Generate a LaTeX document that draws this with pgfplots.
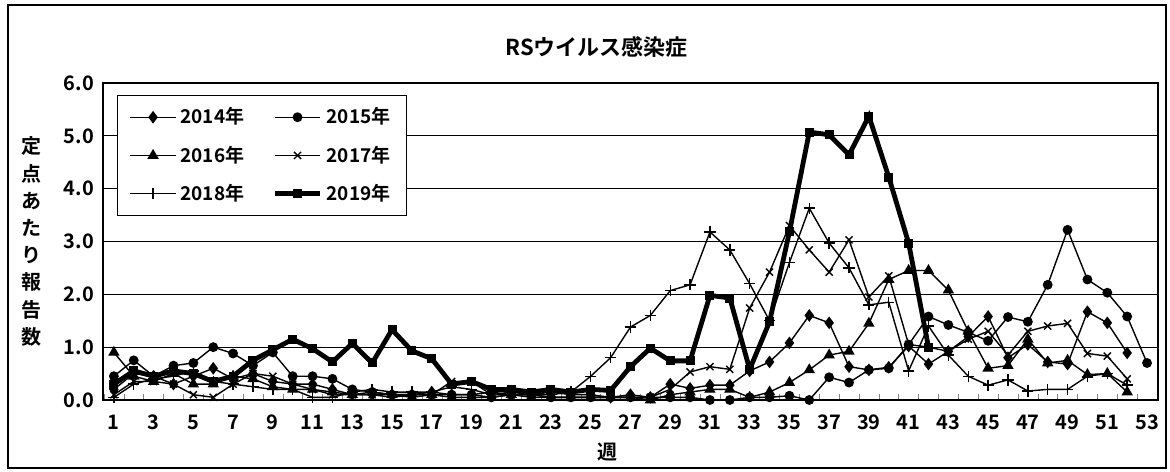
\documentclass[border=0pt]{standalone}
\usepackage{fontspec}
\setmainfont{Noto Sans CJK JP}[BoldFont={Noto Sans CJK JP Bold}]
\usepackage{pgfplots}
\pgfplotsset{compat=1.18}
\usepackage{pgfplotstable}

\pgfplotstableread{
w  a    b    c    d    e    f
1  0.20 0.45 0.90 0.10 0.05 0.30
2  0.50 0.75 0.45 0.35 0.30 0.55
3  0.45 0.45 0.35 0.35 0.40 0.45
4  0.30 0.65 0.50 0.30 0.45 0.55
5  0.45 0.70 0.30 0.10 0.55 0.50
6  0.60 1.00 0.30 0.05 0.35 0.35
7  0.40 0.88 0.45 0.30 0.30 0.45
8  0.50 0.65 0.40 0.50 0.25 0.75
9  0.35 0.90 0.25 0.45 0.20 0.95
10 0.30 0.45 0.20 0.30 0.20 1.15
11 0.30 0.45 0.20 0.20 0.05 0.97
12 0.20 0.40 0.15 0.10 0.05 0.72
13 0.10 0.20 0.10 0.10 0.15 1.07
14 0.10 0.15 0.15 0.10 0.20 0.70
15 0.10 0.10 0.10 0.05 0.15 1.33
16 0.10 0.10 0.05 0.10 0.15 0.93
17 0.15 0.10 0.10 0.10 0.15 0.78
18 0.10 0.10 0.05 0.35 0.25 0.30
19 0.10 0.10 0.05 0.35 0.20 0.35
20 0.15 0.05 0.05 0.10 0.10 0.20
21 0.10 0.10 0.10 0.10 0.15 0.20
22 0.10 0.10 0.05 0.10 0.10 0.15
23 0.15 0.05 0.05 0.05 0.10 0.20
24 0.10 0.05 0.05 0.05 0.15 0.15
25 0.10 0.05 0.05 0.05 0.45 0.20
26 0.05 0.05 0.05 0.05 0.80 0.18
27 0.10 0.05 0.05 0.05 1.38 0.63
28 0.05 0.05 0.00 0.05 1.60 0.98
29 0.30 0.05 0.10 0.20 2.07 0.74
30 0.22 0.05 0.15 0.53 2.18 0.74
31 0.28 0.00 0.20 0.63 3.18 1.98
32 0.28 0.00 0.20 0.58 2.84 1.93
33 0.55 0.05 0.05 1.74 2.20 0.58
34 0.72 0.05 0.15 2.42 1.50 1.48
35 1.08 0.08 0.33 3.30 2.60 3.18
36 1.60 0.00 0.57 2.84 3.63 5.07
37 1.46 0.43 0.85 2.42 2.97 5.02
38 0.63 0.33 0.92 3.03 2.50 4.64
39 0.57 0.57 1.45 1.95 1.80 5.37
40 0.62 0.60 2.28 2.35 1.85 4.22
41 1.02 1.05 2.45 1.05 0.55 2.97
42 0.68 1.58 2.45 1.00 1.40 1.00
43 0.92 1.42 2.08 0.92 0.85 nan
44 1.20 1.28 1.30 1.15 0.45 nan
45 1.58 1.12 0.60 1.30 0.28 nan
46 0.80 1.57 0.65 0.85 0.38 nan
47 1.05 1.48 1.15 1.30 0.17 nan
48 0.72 2.18 0.70 1.40 0.20 nan
49 0.68 3.22 0.75 1.45 0.20 nan
50 1.67 2.28 0.48 0.88 0.45 nan
51 1.46 2.03 0.50 0.83 0.50 nan
52 0.89 1.58 0.15 0.40 0.28 nan
53 nan  0.70 nan  nan  nan  nan
}\datatable

\begin{document}
\begin{tikzpicture}
\begin{axis}[
  scale only axis, width=527.5pt, height=158.5pt,
  xmin=0.45, xmax=53.55, ymin=0, ymax=6,
  axis line style={line width=0.8pt},
  xtick={1,3,...,53},
  minor xtick={0.5,1.5,...,53.5},
  major tick length=0pt, minor tick length=3pt,
  tick align=inside, tick pos=left,
  ytick={0,1,...,6},
  ymajorgrids, grid style={black, line width=0.6pt},
  /pgf/number format/assume math mode=true,
  yticklabel={\pgfmathprintnumber[fixed,fixed zerofill,precision=1]{\tick}},
  ticklabel style={font=\bfseries\fontsize{10}{10}\selectfont},
  xticklabel style={yshift=-4pt},
  yticklabel style={xshift=-1pt},
  unbounded coords=discard,
  clip=false,
  legend columns=2,
  legend style={at={(axis description cs:0.0133,0.962)}, anchor=north west,
    draw=black, line width=0.6pt, font=\bfseries\fontsize{9.5}{9.5}\selectfont,
    inner xsep=6pt, inner ysep=4pt, row sep=5.5pt,
    /tikz/every even column/.append style={column sep=12pt}},
  legend cell align=left,
  legend image code/.code={\draw[mark repeat=2,mark phase=2] plot coordinates {(0cm,0cm)(0.4cm,0cm)(0.8cm,0cm)};},
]
\addplot[black, line width=0.7pt, mark=diamond*, mark size=2.6pt, mark options={solid,fill=black}] table[x=w,y=a] {\datatable};
\addlegendentry{2014年}
\addplot[black, line width=0.7pt, mark=*, mark size=2.1pt, mark options={solid,fill=black}] table[x=w,y=b] {\datatable};
\addlegendentry{2015年}
\addplot[black, line width=0.7pt, mark=triangle*, mark size=2.6pt, mark options={solid,fill=black}] table[x=w,y=c] {\datatable};
\addlegendentry{2016年}
\addplot[black, line width=0.7pt, mark=x, mark size=2.5pt, mark options={solid,line width=0.7pt}] table[x=w,y=d] {\datatable};
\addlegendentry{2017年}
\addplot[black, line width=0.7pt, mark=+, mark size=2.8pt, mark options={solid,line width=0.7pt}] table[x=w,y=e] {\datatable};
\addlegendentry{2018年}
\addplot[black, line width=2.4pt, mark=square*, mark size=2pt, mark options={solid,fill=black,line width=0.5pt}] table[x=w,y=f] {\datatable};
\addlegendentry{2019年}

\node[font=\bfseries\fontsize{11}{11}\selectfont] at (axis description cs:0.468,1.113) {RSウイルス感染症};
\node[font=\bfseries\fontsize{10}{13.6}\selectfont, align=center] at (axis description cs:-0.0673,0.5) {定\\点\\あ\\た\\り\\報\\告\\数};
\node[font=\bfseries\fontsize{10}{10}\selectfont] at (axis description cs:0.478,-0.164) {週};
\draw[line width=0.8pt] (axis description cs:-0.090,-0.2145) rectangle (axis description cs:1.0076,1.246);
\path (axis description cs:-0.0976,-0.2271) rectangle (axis description cs:1.0114,1.2618);
\end{axis}
\end{tikzpicture}
\end{document}
